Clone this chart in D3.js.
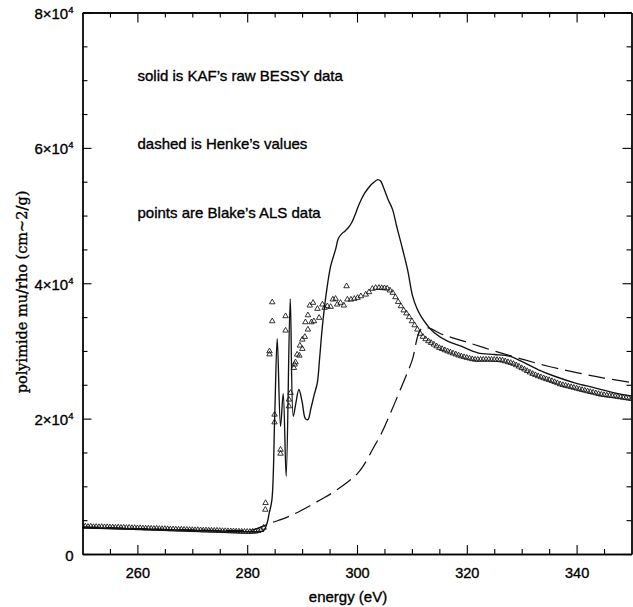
<!DOCTYPE html>
<html>
<head>
<meta charset="utf-8">
<script src="https://cdn.jsdelivr.net/npm/d3@7"></script>
<style>
  html, body { margin: 0; padding: 0; background: #fff; }
  svg { display: block; }
</style>
</head>
<body>
<svg id="chart" width="633" height="607"></svg>
<script>
// ---- data (energy in eV, mu/rho in cm^2/g) ----
const solidData = [
  [250,3900],[255,3800],[260,3700],[265,3600],[270,3500],[275,3400],[280,3300],[282,3300],
  [283,3450],[283.6,4500],[284.0,6000],[284.5,8000],[285.0,20000],[285.47,31800],[286.07,18870],
  [286.56,23700],[287.1,11480],[287.84,37700],[288.39,20350],[288.8,22000],[289.42,24300],
  [290.0,22500],[290.6,20000],[291.06,19860],[291.6,21500],[292.2,23500],[292.77,25290],
  [293.2,29000],[293.7,33660],[294.4,38500],[295.2,42530],[296.1,45000],[296.6,46600],
  [297.2,47300],[297.8,47700],[298.4,48200],[299.0,48900],[299.6,50000],[300.2,51300],
  [300.8,52400],[301.4,53300],[302.0,54000],[302.6,54600],[303.2,55000],[303.8,55300],
  [304.3,55100],[304.9,54000],[305.6,52500],[306.47,50910],[307.2,48500],[308.0,45990],
  [309.2,42040],[310.13,38090],[310.9,36300],[311.64,35140],[312.8,33800],[314.07,32680],
  [316.5,31440],[318.95,30700],[322.0,29720],[325.03,29470],[327.77,29220],[329.9,28480],
  [332.96,27250],[336.0,26260],[339.64,25290],[343.3,24550],[346.95,23810],[350.0,23350]
];

const dashedData = [
  [250,4000],[260,3750],[270,3550],[278,3450],[281,3550],[282.1,3850],[284.6,4670],
  [286.1,5070],[287.9,5660],[290,6500],[292,7400],[294,8300],[296,9300],[298.25,10600],[300,11800],
  [301.3,13200],[303,15700],[304.5,17900],[306.2,21000],[308,24500],[310,28500],[311.95,33400],
  [316,32300],[320,31300],[325,30000],[330,28800],[335,27700],[340,26800],[345,26000],[350,25350]
];

const pointsData = [
  [250,4050],[250.5,4080],[251,4030],[251.5,4060],[252,4000],[252.5,4020],[253,3990],[253.5,4010],
  [254,3970],[254.5,3980],[255,3950],[255.5,3960],[256,3920],[256.5,3940],[257,3900],[257.5,3910],
  [258,3870],[258.5,3890],[259,3850],[259.5,3860],[260,3820],[260.5,3840],[261,3800],[261.5,3780],
  [262,3790],[262.5,3760],[263,3740],[263.5,3760],[264,3720],[264.5,3700],[265,3710],[265.5,3680],
  [266,3660],[266.5,3670],[267,3640],[267.5,3620],[268,3630],[268.5,3600],[269,3590],[269.5,3570],
  [270,3560],[270.5,3540],[271,3550],[271.5,3520],[272,3500],[272.5,3510],[273,3480],[273.5,3470],
  [274,3450],[274.5,3460],[275,3430],[275.5,3410],[276,3400],[276.5,3390],[277,3370],[277.5,3360],
  [278,3340],[278.5,3330],[279,3310],[279.5,3300],[280,3300],[280.5,3290],[281,3310],[281.5,3330],
  [282,3400],[282.5,3550],[283,3900],[283.3,6550],[283.35,7540],
  [284.06,29960],[284.06,29500],[284.56,34400],[284.56,37200],[284.98,20600],[284.98,19460],
  [286.07,15420],[286.07,14830],[286.99,35140],[286.99,33020],[287.6,22820],[287.6,21830],
  [287.9,23810],[288.5,27500],[288.63,28000],[288.8,28330],[289.1,29470],[289.5,29320],
  [289.6,30800],[290.04,30310],[290.04,31690],[290.5,32090],[291.06,33170],[291.06,35280],
  [290.6,34250],[291.7,34250],[292.15,34400],[291.4,36720],[292.0,37120],[292.8,36230],
  [293.1,34900],[293.7,36870],[294.1,36380],[294.6,36620],[295.2,36520],[295.6,37610],
  [296.1,37710],[296.4,36870],[297.0,37120],[297.6,36720],[298.1,39570],[298.25,37600],
  [298.9,37600],[299.5,37710],[300.1,37850],[300.7,38090],[301.6,38340],[302.2,38690],
  [302.8,39190],[303.4,39330],[304.0,39330],[304.5,39300],
  [305,39280],[305.5,39230],[306,38950],[306.5,38600],[307,37950],[307.5,37250],[308,36620],
  [308.5,36000],[309,35550],[309.5,35000],[310,34400],[310.5,33800],[311,33170],[311.5,32550],
  [312,32100],[312.5,31750],[313,31450],[313.5,31200],[314,30950],[314.5,30700],[315,30460],
  [315.5,30300],[316,30120],[316.5,29960],[317,29800],[317.5,29650],[318,29500],[318.5,29350],
  [319,29220],[319.5,29100],[320,29000],[320.5,28900],[321,28800],[321.5,28730],[322,28720],
  [322.5,28720],[323,28730],[323.5,28730],[324,28730],[324.5,28720],[325,28700],[325.5,28680],
  [326,28650],[326.5,28600],[327,28480],[327.5,28350],[328,28250],[328.5,28100],[329,27900],
  [329.5,27700],[330,27480],[330.5,27270],[331,27050],[331.5,26830],[332,26620],[332.5,26440],
  [333,26280],[333.5,26130],[334,25980],[334.5,25840],[335,25710],[335.5,25560],[336,25410],
  [336.5,25250],[337,25090],[337.5,24970],[338,24870],[338.5,24770],[339,24670],[339.5,24570],
  [340,24460],[340.5,24360],[341,24250],[341.5,24150],[342,24050],[342.5,23950],[343,23860],
  [343.5,23760],[344,23660],[344.5,23560],[345,23500],[345.5,23440],[346,23390],[346.5,23340],
  [347,23290],[347.5,23230],[348,23170],[348.5,23100],[349,23040],[349.5,22980],[350,22930]
];

const xMajorTicks = [260, 280, 300, 320, 340];
const xMinorTicks = [255, 265, 270, 275, 285, 290, 295, 305, 310, 315, 325, 330, 335, 345];
const yMajorTicks = [0, 20000, 40000, 60000, 80000];
const yMinorTicks = [5000, 10000, 15000, 25000, 30000, 35000, 45000, 50000, 55000, 65000, 70000, 75000];
const yTickLabels = ["0", "2", "4", "6", "8"];
const annotations = ["solid is KAF\u2019s raw BESSY data", "dashed is Henke\u2019s values", "points are Blake\u2019s ALS data"];
const xTitle = "energy (eV)";
const yTitle = "polyimide mu/rho (cm~2/g)";

// ---- layout ----
const L = 82.5, R = 631.5, T = 12.5, B = 554;
const svg = d3.select("#chart");
svg.append("rect").attr("width", 633).attr("height", 607).attr("fill", "#fff");

const x = d3.scaleLinear().domain([250, 350]).range([L, R]);
const y = d3.scaleLinear().domain([0, 80000]).range([B, T]);

svg.append("defs").append("clipPath").attr("id", "clip")
  .append("rect").attr("x", L).attr("y", T).attr("width", R - L).attr("height", B - T);

const plot = svg.append("g").attr("clip-path", "url(#clip)");

// dashed (Henke)
plot.append("path")
  .datum(dashedData)
  .attr("fill", "none").attr("stroke", "#111").attr("stroke-width", 1.25)
  .attr("stroke-dasharray", "17,7")
  .attr("d", d3.line().x(d => x(d[0])).y(d => y(d[1])).curve(d3.curveCatmullRom.alpha(0.5)));

// solid (BESSY)
plot.append("path")
  .datum(solidData)
  .attr("fill", "none").attr("stroke", "#111").attr("stroke-width", 1.35)
  .attr("d", d3.line().x(d => x(d[0])).y(d => y(d[1])).curve(d3.curveCatmullRom.alpha(0.5)));

// points (ALS)
const tri = d3.symbol().type(d3.symbolTriangle).size(13);
plot.append("g").selectAll("path")
  .data(pointsData).join("path")
  .attr("transform", d => `translate(${x(d[0])},${y(d[1])})`)
  .attr("d", tri)
  .attr("fill", "none").attr("stroke", "#111").attr("stroke-width", 0.85);

// ---- axes ----
const TEXT_FONT = "Liberation Sans, Arial, sans-serif";
function styleAxis(g) {
  g.selectAll("path.domain").attr("stroke", "#000").attr("stroke-width", 1.3);
  g.selectAll(".tick line").attr("stroke", "#000").attr("stroke-width", 1.1);
}
function boldish(sel) {
  sel.attr("stroke", "#000").attr("stroke-width", 0.35).attr("fill", "#000");
}
// bottom
const gb = svg.append("g").attr("transform", `translate(0,${B})`)
  .call(d3.axisBottom(x).tickValues(xMajorTicks).tickSize(-9).tickSizeOuter(0).tickFormat(d3.format("d")));
styleAxis(gb);
gb.selectAll(".tick text").attr("y", 24).attr("dy", null)
  .attr("font-family", TEXT_FONT).attr("font-size", 14.5).call(boldish);
svg.append("g").attr("transform", `translate(0,${B})`)
  .call(d3.axisBottom(x).tickValues(xMinorTicks).tickSize(-5).tickSizeOuter(0).tickFormat(""))
  .call(styleAxis);
// top
svg.append("g").attr("transform", `translate(0,${T})`)
  .call(d3.axisTop(x).tickValues(xMajorTicks).tickSize(-10).tickSizeOuter(0).tickFormat(""))
  .call(styleAxis);
svg.append("g").attr("transform", `translate(0,${T})`)
  .call(d3.axisTop(x).tickValues(xMinorTicks).tickSize(-5).tickSizeOuter(0).tickFormat(""))
  .call(styleAxis);
// left
const gl = svg.append("g").attr("transform", `translate(${L},0)`)
  .call(d3.axisLeft(y).tickValues(yMajorTicks).tickSize(-9).tickSizeOuter(0).tickFormat(""));
styleAxis(gl);
gl.selectAll(".tick").each(function(d, i) {
  const t = d3.select(this).append("text")
    .attr("x", -9).attr("y", 6).attr("text-anchor", "end")
    .attr("font-family", TEXT_FONT).attr("font-size", 15).call(boldish);
  if (d === 0) {
    t.text(yTickLabels[i]);
  } else {
    t.append("tspan").text(yTickLabels[i] + "\u00d710");
    t.append("tspan").attr("font-size", 9.5).attr("dy", -6).text("4");
  }
});
svg.append("g").attr("transform", `translate(${L},0)`)
  .call(d3.axisLeft(y).tickValues(yMinorTicks).tickSize(-5).tickSizeOuter(0).tickFormat(""))
  .call(styleAxis);
// right
svg.append("g").attr("transform", `translate(${R},0)`)
  .call(d3.axisRight(y).tickValues(yMajorTicks).tickSize(-9).tickSizeOuter(0).tickFormat(""))
  .call(styleAxis);
svg.append("g").attr("transform", `translate(${R},0)`)
  .call(d3.axisRight(y).tickValues(yMinorTicks).tickSize(-5).tickSizeOuter(0).tickFormat(""))
  .call(styleAxis);

// ---- titles ----
svg.append("text")
  .attr("x", 348).attr("y", 602).attr("text-anchor", "middle")
  .attr("font-family", TEXT_FONT).attr("font-size", 15).call(boldish)
  .text(xTitle);
svg.append("text")
  .attr("transform", "translate(27,292) rotate(-90)").attr("text-anchor", "middle")
  .attr("font-family", "DejaVu Serif, serif").attr("font-size", 14.5).call(boldish)
  .text(yTitle);

// ---- annotations ----
svg.append("g").selectAll("text")
  .data(annotations).join("text")
  .attr("x", 137.5).attr("y", (d, i) => 80.5 + i * 68.5)
  .attr("font-family", TEXT_FONT).attr("font-size", 15).call(boldish)
  .text(d => d);
</script>
</body>
</html>
